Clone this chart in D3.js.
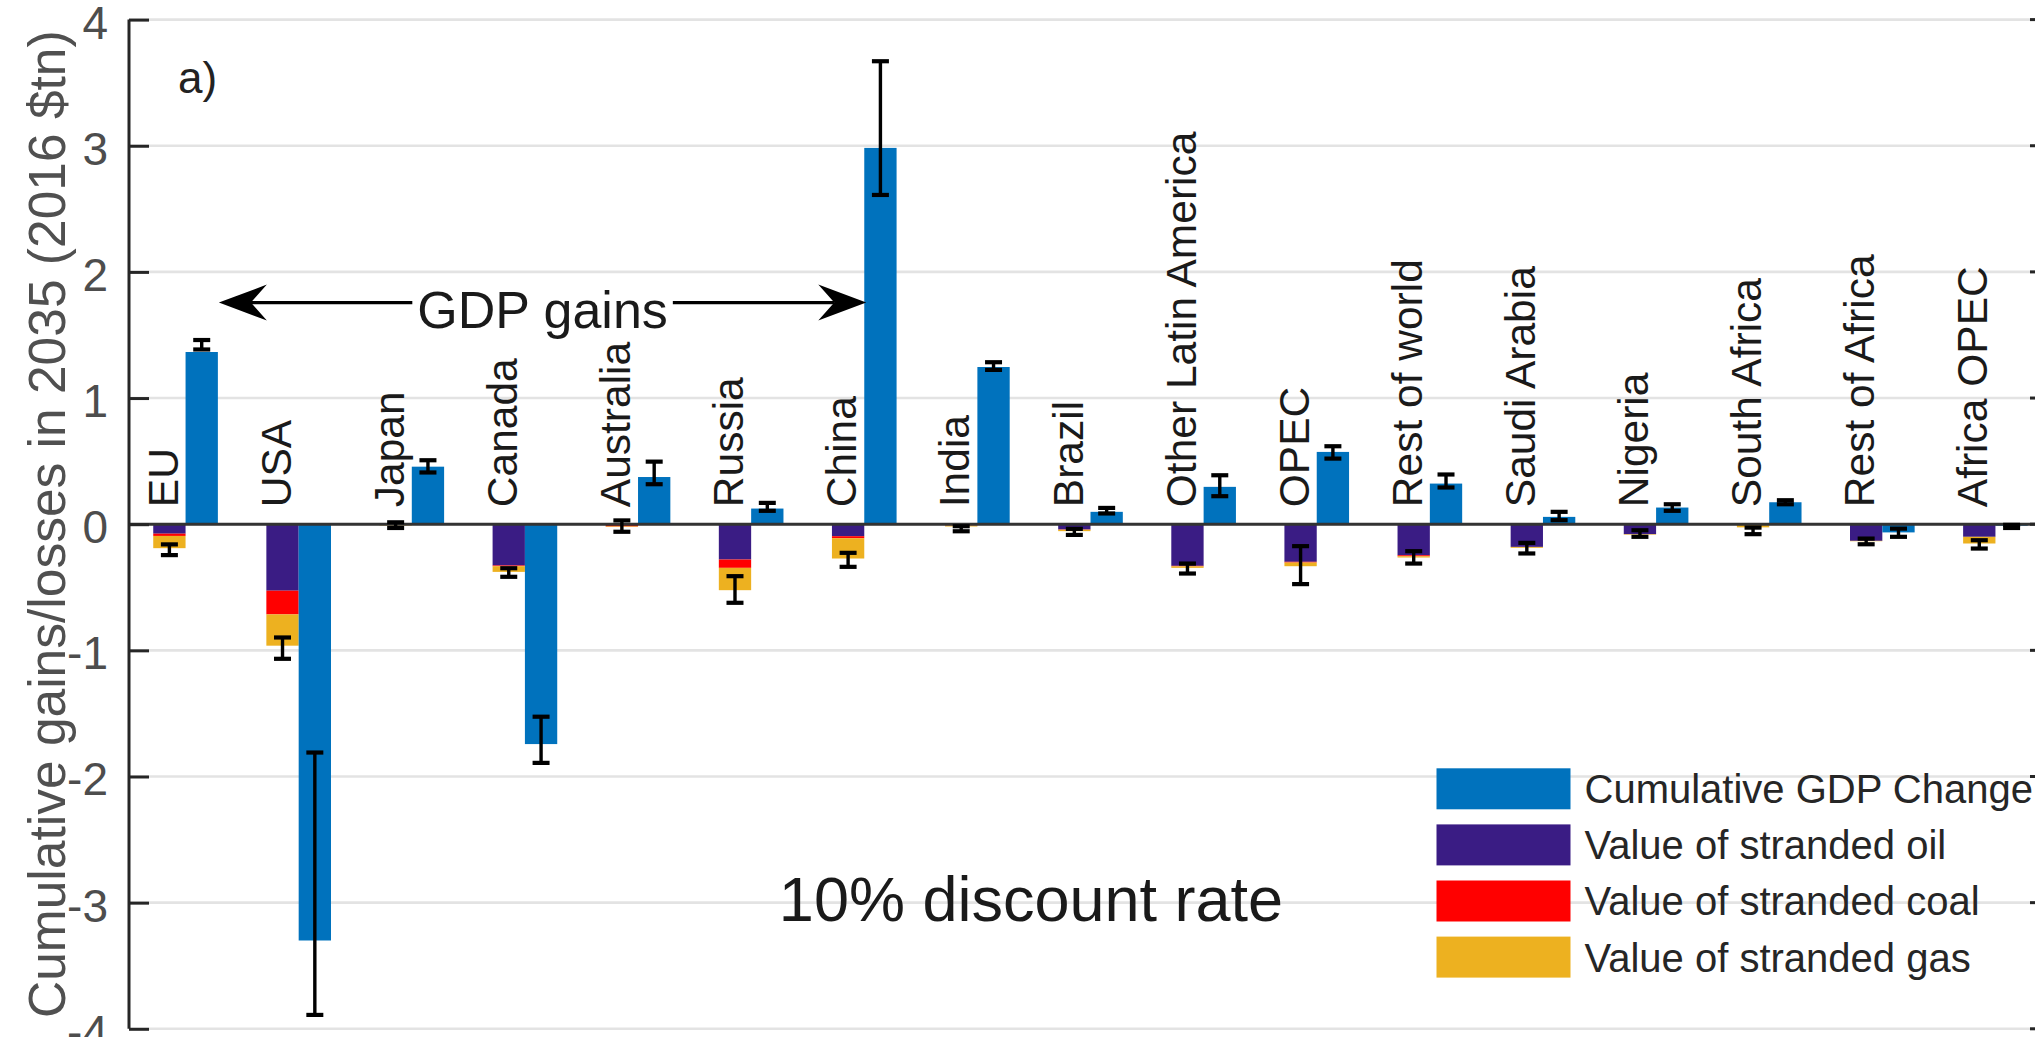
<!DOCTYPE html>
<html>
<head>
<meta charset="utf-8">
<script src="https://cdn.jsdelivr.net/npm/d3@7"></script>
<style>
  html, body { margin: 0; padding: 0; background: #ffffff; }
  svg { display: block; font-family: "Liberation Sans", Arial, Helvetica, sans-serif; }
</style>
</head>
<body>
<svg id="chart" width="2035" height="1037"></svg>
<script>
// Regions along the x axis
const categories = ["EU", "USA", "Japan", "Canada", "Australia", "Russia", "China", "India",
  "Brazil", "Other Latin America", "OPEC", "Rest of world", "Saudi Arabia", "Nigeria",
  "South Africa", "Rest of Africa", "Africa OPEC"];

// Cumulative GDP change in 2035 (2016 $tn) with its uncertainty range
const gdpChange = [1.365, -3.30, 0.456, -1.743, 0.374, 0.124, 2.983, 1.246,
  0.098, 0.296, 0.573, 0.322, 0.058, 0.132, 0.174, -0.065, -0.012];
const gdpLow  = [1.385, -3.89, 0.410, -1.892, 0.317, 0.106, 2.610, 1.223,
  0.085, 0.222, 0.520, 0.291, 0.032, 0.106, 0.158, -0.100, -0.030];
const gdpHigh = [1.460, -1.81, 0.507, -1.526, 0.496, 0.169, 3.670, 1.284,
  0.129, 0.388, 0.618, 0.394, 0.098, 0.158, 0.190, -0.035, -0.005];

// Value of stranded fossil fuel assets (negative = loss)
const strandedOil  = [-0.075, -0.527, -0.004, -0.327, -0.006, -0.280, -0.095, -0.004,
  -0.042, -0.330, -0.298, -0.246, -0.180, -0.079, -0.003, -0.132, -0.100];
const strandedCoal = [-0.018, -0.188, -0.002, -0.006, -0.012, -0.066, -0.016, -0.006,
  -0.002, -0.004, -0.006, -0.008, 0.000, 0.000, -0.004, 0.000, 0.000];
const strandedGas  = [-0.097, -0.248, -0.004, -0.045, -0.004, -0.177, -0.161, -0.008,
  -0.011, -0.012, -0.029, -0.010, -0.007, -0.004, -0.018, -0.003, -0.053];
const strandedLow  = [-0.245, -1.067, -0.030, -0.417, -0.060, -0.623, -0.338, -0.056,
  -0.085, -0.391, -0.475, -0.312, -0.232, -0.100, -0.079, -0.159, -0.193];
const strandedHigh = [-0.160, -0.898, 0.015, -0.349, 0.030, -0.412, -0.227, -0.016,
  -0.037, -0.312, -0.174, -0.214, -0.148, -0.048, -0.027, -0.114, -0.127];

// Axis ticks and legend entries
const yTicks = [-4, -3, -2, -1, 0, 1, 2, 3, 4];
const legendLabels = ["Cumulative GDP Change", "Value of stranded oil",
  "Value of stranded coal", "Value of stranded gas"];

const colors = { gdp: "#0072BD", oil: "#3a1c84", coal: "#FF0000", gas: "#EDB120" };
const legendColors = [colors.gdp, colors.oil, colors.coal, colors.gas];

const svg = d3.select("#chart");
const plot = { left: 129, right: 2052, top: 19.6, bottom: 1028.8 };

const x = d3.scaleBand().domain(categories).range([plot.left, plot.right]).paddingInner(0).paddingOuter(0);
const y = d3.scaleLinear().domain([-4, 4]).range([plot.bottom, plot.top]);
const barW = x.bandwidth() * 0.2857;
const center = c => x(c) + x.bandwidth() / 2;

// Light grid lines
svg.append("g").selectAll("line").data(yTicks).join("line")
  .attr("x1", plot.left).attr("x2", plot.right)
  .attr("y1", d => y(d)).attr("y2", d => y(d))
  .attr("stroke", "#e3e3e3").attr("stroke-width", 2.6);

// Stacked stranded-asset bars (left of each pair)
const rows = categories.map((c, i) => ({ cat: c, oil: strandedOil[i], coal: strandedCoal[i], gas: strandedGas[i] }));
const stack = d3.stack().keys(["oil", "coal", "gas"]).offset(d3.stackOffsetDiverging)(rows);
svg.append("g").selectAll("g").data(stack).join("g")
  .attr("fill", s => colors[s.key])
  .selectAll("rect").data(s => s).join("rect")
  .attr("x", d => center(d.data.cat) - barW)
  .attr("width", barW)
  .attr("y", d => y(Math.max(d[0], d[1])))
  .attr("height", d => Math.abs(y(d[0]) - y(d[1])));

// GDP change bars (right of each pair)
svg.append("g").selectAll("rect").data(categories).join("rect")
  .attr("fill", colors.gdp)
  .attr("x", c => center(c))
  .attr("width", barW)
  .attr("y", (c, i) => y(Math.max(0, gdpChange[i])))
  .attr("height", (c, i) => Math.abs(y(gdpChange[i]) - y(0)));

// Zero line
svg.append("line")
  .attr("x1", plot.left).attr("x2", plot.right)
  .attr("y1", y(0)).attr("y2", y(0))
  .attr("stroke", "#333333").attr("stroke-width", 3);

// Error bars
function errorBars(xs, lo, hi) {
  const g = svg.append("g").attr("stroke", "#000").attr("stroke-width", 3.4).attr("fill", "none");
  const cap = 8.5;
  categories.forEach((c, i) => {
    const cx = xs(c);
    g.append("line").attr("x1", cx).attr("x2", cx).attr("y1", y(lo[i])).attr("y2", y(hi[i]));
    [lo[i], hi[i]].forEach(v => {
      g.append("line").attr("x1", cx - cap).attr("x2", cx + cap).attr("y1", y(v)).attr("y2", y(v))
        .attr("stroke-width", 4.2);
    });
  });
}
errorBars(c => center(c) - barW / 2, strandedLow, strandedHigh);
errorBars(c => center(c) + barW / 2, gdpLow, gdpHigh);

// Left y axis with inward ticks
const yAxis = svg.append("g").attr("transform", `translate(${plot.left},0)`)
  .call(d3.axisLeft(y).tickValues(yTicks).tickSize(-20).tickPadding(0).tickFormat(d3.format("d")));
yAxis.select(".domain").attr("stroke", "#262626").attr("stroke-width", 3)
  .attr("d", `M0,${plot.top}V${plot.bottom}`);
yAxis.selectAll(".tick line").attr("stroke", "#262626").attr("stroke-width", 3);
yAxis.selectAll(".tick text")
  .attr("x", -21).attr("dy", "0.40em")
  .attr("font-size", 46).attr("fill", "#4d4d4d")
  .attr("font-family", "'Liberation Sans', Arial, sans-serif")
  .text(d => d < 0 ? "-" + Math.abs(d) : d);

// Right-side ticks
svg.append("g").selectAll("line").data(yTicks).join("line")
  .attr("x1", plot.right - 22).attr("x2", plot.right)
  .attr("y1", d => y(d)).attr("y2", d => y(d))
  .attr("stroke", "#262626").attr("stroke-width", 3);

// Y axis title
svg.append("text")
  .attr("transform", `translate(65,${(plot.top + plot.bottom) / 2}) rotate(-90)`)
  .attr("text-anchor", "middle")
  .attr("font-size", 51.5).attr("fill", "#505050")
  .text("Cumulative gains/losses in 2035 (2016 $tn)");

// Region labels, written upwards above the zero line
svg.append("g").selectAll("text").data(categories).join("text")
  .attr("transform", c => `translate(${center(c) - 8},${y(0) - 17}) rotate(-90)`)
  .attr("font-size", 42.5).attr("fill", "#1a1a1a")
  .text(c => c);

// Panel letter
svg.append("text").attr("x", 178).attr("y", 93)
  .attr("font-size", 44).attr("fill", "#222").text("a)");

// "GDP gains" double arrow from the EU bar to the China bar
const arrowY = y(1.757);
const leftTip = center("EU") + barW + 1;
const rightTip = center("China") + 2;
const mid = (leftTip + rightTip) / 2;
const label = svg.append("text").attr("x", mid).attr("y", arrowY + 25)
  .attr("text-anchor", "middle").attr("font-size", 52).attr("fill", "#1a1a1a")
  .text("GDP gains");
const bb = label.node().getBBox();
const headL = 48, headW = 18, notch = 16;
svg.append("line").attr("x1", leftTip + headL - notch).attr("x2", bb.x - 5)
  .attr("y1", arrowY).attr("y2", arrowY).attr("stroke", "#000").attr("stroke-width", 3.3);
svg.append("line").attr("x1", bb.x + bb.width + 5).attr("x2", rightTip - headL + notch)
  .attr("y1", arrowY).attr("y2", arrowY).attr("stroke", "#000").attr("stroke-width", 3.3);
const head = (tip, dir) => {
  const p = d3.path();
  p.moveTo(tip, arrowY);
  p.lineTo(tip + dir * headL, arrowY - headW);
  p.lineTo(tip + dir * (headL - notch), arrowY);
  p.lineTo(tip + dir * headL, arrowY + headW);
  p.closePath();
  return p.toString();
};
svg.append("path").attr("d", head(leftTip, 1)).attr("fill", "#000");
svg.append("path").attr("d", head(rightTip, -1)).attr("fill", "#000");

// Discount-rate note
svg.append("text").attr("x", 1031).attr("y", 920.7)
  .attr("text-anchor", "middle").attr("font-size", 63).attr("fill", "#1a1a1a")
  .text("10% discount rate");

// Legend
const legend = svg.append("g").attr("transform", "translate(1436.5,768.3)");
const items = legend.selectAll("g").data(legendLabels).join("g")
  .attr("transform", (d, i) => `translate(0,${i * 56.1})`);
items.append("rect").attr("width", 134).attr("height", 41).attr("fill", (d, i) => legendColors[i]);
items.append("text").attr("x", 148).attr("y", 20.5).attr("dy", "0.36em")
  .attr("font-size", 40).attr("fill", "#262626").text(d => d);
</script>
</body>
</html>
